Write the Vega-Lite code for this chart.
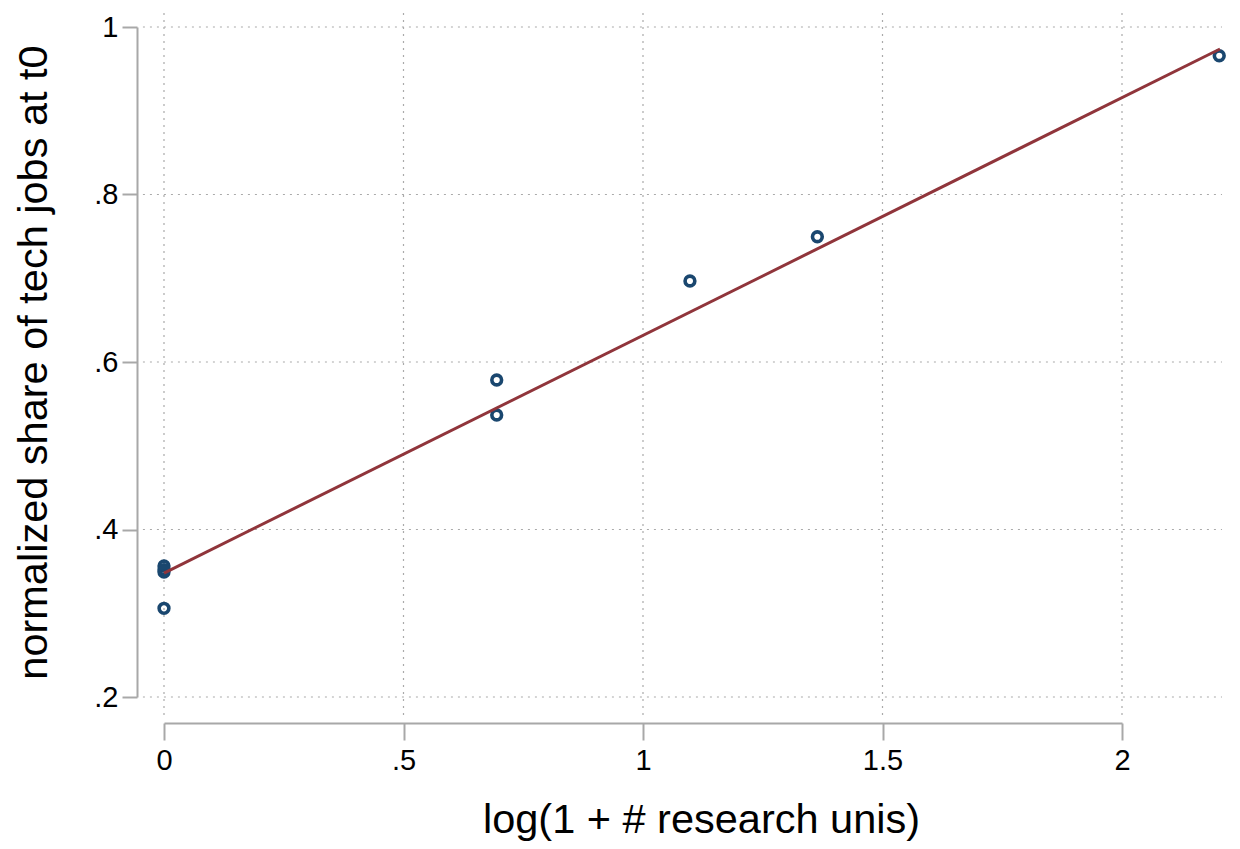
{
  "$schema": "https://vega.github.io/schema/vega-lite/v6.json",
  "width": 958,
  "height": 670,
  "autosize": {"type": "none"},
  "padding": {"left": 164, "top": 27, "right": 118, "bottom": 152},
  "background": "white",
  "config": {
    "view": {"stroke": null},
    "axis": {
      "grid": false,
      "domainColor": "#a8a8a8",
      "domainWidth": 2,
      "tickColor": "#a8a8a8",
      "tickWidth": 2,
      "labelFont": "Liberation Sans",
      "labelFontSize": 29,
      "labelColor": "#000000",
      "titleFont": "Liberation Sans",
      "titleFontSize": 41.5,
      "titleFontWeight": "normal",
      "titleColor": "#000000",
      "tickCount": 5,
      "labelFlush": false,
      "labelOverlap": false,
      "labelExpr": "datum.value > 0 && datum.value < 1 ? slice(format(datum.value, '.1f'), 1) : format(datum.value, '~g')"
    },
    "axisX": {"offset": 26, "tickSize": 17, "labelPadding": 6, "titlePadding": 24, "titleX": 537},
    "axisY": {"offset": 27, "tickSize": 15, "labelPadding": 4, "titlePadding": 38}
  },
  "layer": [
    {
      "data": {"values": [{"gx": 0}, {"gx": 0.5}, {"gx": 1}, {"gx": 1.5}, {"gx": 2}]},
      "mark": {"type": "rule", "color": "#aaaaaa", "strokeWidth": 1.2, "strokeDash": [2, 5]},
      "encoding": {
        "x": {"field": "gx", "type": "quantitative", "title": "log(1 + # research unis)", "scale": {"domain": [0, 2], "nice": false, "zero": false}},
        "y": {"datum": 0.1785, "type": "quantitative", "title": "normalized share of tech jobs at t0", "scale": {"domain": [0.2, 1], "nice": false, "zero": false}},
        "y2": {"datum": 1.0227}
      }
    },
    {
      "data": {"values": [{"gy": 0.2}, {"gy": 0.4}, {"gy": 0.6}, {"gy": 0.8}, {"gy": 1}]},
      "mark": {"type": "rule", "color": "#aaaaaa", "strokeWidth": 1.2, "strokeDash": [2, 5]},
      "encoding": {
        "y": {"field": "gy", "type": "quantitative", "title": "normalized share of tech jobs at t0", "scale": {"domain": [0.2, 1], "nice": false, "zero": false}},
        "x": {"datum": -0.044, "type": "quantitative", "title": "log(1 + # research unis)", "scale": {"domain": [0, 2], "nice": false, "zero": false}},
        "x2": {"datum": 2.2088}
      }
    },
    {
      "data": {"values": [
        {"x": 0, "y": 0.3564},
        {"x": 0, "y": 0.3520},
        {"x": 0, "y": 0.3493},
        {"x": 0, "y": 0.3059},
        {"x": 0.6946, "y": 0.5785},
        {"x": 0.6946, "y": 0.5367},
        {"x": 1.098, "y": 0.6967},
        {"x": 1.364, "y": 0.7496},
        {"x": 2.203, "y": 0.9657}
      ]},
      "mark": {"type": "point", "shape": "circle", "filled": false, "color": "#1a476f", "strokeWidth": 3.6, "size": 95, "opacity": 1},
      "encoding": {
        "x": {"field": "x", "type": "quantitative", "title": "log(1 + # research unis)", "scale": {"domain": [0, 2], "nice": false, "zero": false}},
        "y": {"field": "y", "type": "quantitative", "title": "normalized share of tech jobs at t0", "scale": {"domain": [0.2, 1], "nice": false, "zero": false}}
      }
    },
    {
      "data": {"values": [{"x": 0, "y": 0.348}, {"x": 2.2046, "y": 0.9737}]},
      "mark": {"type": "line", "color": "#90353b", "strokeWidth": 3},
      "encoding": {
        "x": {"field": "x", "type": "quantitative", "title": "log(1 + # research unis)", "scale": {"domain": [0, 2], "nice": false, "zero": false}},
        "y": {"field": "y", "type": "quantitative", "title": "normalized share of tech jobs at t0", "scale": {"domain": [0.2, 1], "nice": false, "zero": false}}
      }
    }
  ]
}
